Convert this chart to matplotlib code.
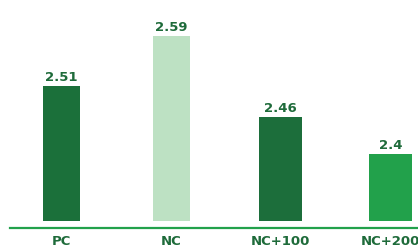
import matplotlib.pyplot as plt

groups = ["PC", "NC", "NC+100", "NC+200"]
values = [2.51, 2.59, 2.46, 2.4]
colors = ["#1b703a", "#bde1c3", "#1c6e3b", "#22a14b"]
widths = [0.337, 0.337, 0.392, 0.392]

base = 2.293
px = 621.9  # pixels per unit on the value axis

fig = plt.figure(figsize=(4.18, 2.48), dpi=100)
ax = fig.add_axes([10 / 418, 20 / 248, 408 / 418, 228 / 248])

x = list(range(len(groups)))
ax.bar(x, [v - base for v in values], bottom=base, width=widths, color=colors)

for xi, v in zip(x, values):
    ax.annotate(f"{v:g}", (xi, v), xytext=(0, 1.5), textcoords="offset points",
                ha="center", va="bottom", fontsize=9.5, fontweight="bold",
                color="#1e6b3a")

ax.set_xlim(-0.4696, 3.2508)
ax.set_ylim(base - 7 / px, base - 7 / px + 228 / px)

for s in ["top", "right", "left"]:
    ax.spines[s].set_visible(False)
ax.spines["bottom"].set_color("#22a14b")
ax.spines["bottom"].set_linewidth(1.6)
ax.set_yticks([])
ax.set_xticks(x)
ax.set_xticklabels(groups, fontsize=9.5, fontweight="bold", color="#1e6b3a")
ax.tick_params(axis="x", length=0, pad=5)

fig.savefig("out.png", dpi=100)
